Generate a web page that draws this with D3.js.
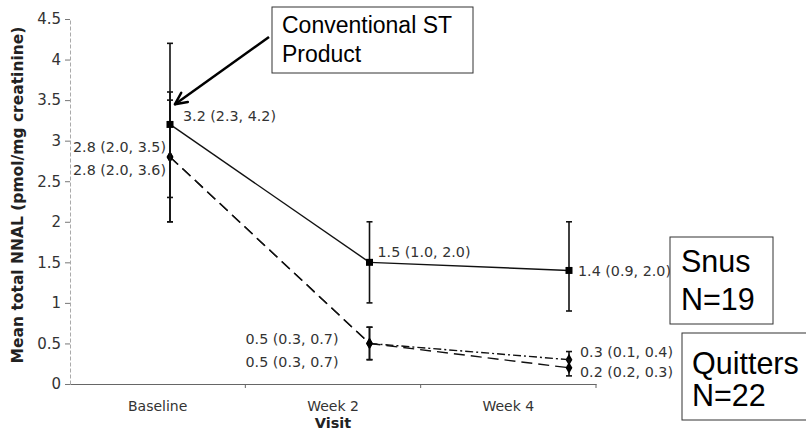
<!DOCTYPE html>
<html>
<head>
<meta charset="utf-8">
<script src="https://cdn.jsdelivr.net/npm/d3@7"></script>
<style>
body { margin: 0; background: #fff; }
svg { display: block; font-family: "DejaVu Sans", sans-serif; }
</style>
</head>
<body>
<svg id="chart" width="806" height="441"></svg>
<script>
// visits on the x axis
var visits = ['Baseline', 'Week 2', 'Week 4'];
var yTicks = [0, 0.5, 1, 1.5, 2, 2.5, 3, 3.5, 4, 4.5];

// snus group: mean and 95% CI
var snusMean = [3.2, 1.5, 1.4];
var snusLow  = [2.3, 1.0, 0.9];
var snusHigh = [4.2, 2.0, 2.0];

// quitters, two traces (they sit on top of each other until week 2)
var quitAMean = [2.8, 0.5, 0.3];
var quitALow  = [2.0, 0.3, 0.1];
var quitAHigh = [3.5, 0.7, 0.4];

var quitBMean = [2.8, 0.5, 0.2];
var quitBLow  = [2.0, 0.3, 0.2];
var quitBHigh = [3.6, 0.7, 0.3];

var svg = d3.select('#chart');
var fmt = d3.format('.1f');

//scales ---------------------------------------------
var y = d3.scaleLinear().domain([0, 4.5]).range([384, 19]);
var xBand = d3.scaleBand().domain(visits).range([70, 596]);
// the points in the original are not on the band centres
var xPt = d3.scalePoint().domain(visits).range([170, 569]);

//axes -----------------------------------------------
var yAxis = svg.append('g')
  .attr('transform', 'translate(70,0)')
  .call(d3.axisLeft(y).tickValues(yTicks).tickSize(5).tickSizeOuter(0).tickPadding(4).tickFormat(d3.format('~g')));
yAxis.select('.domain').attr('stroke', '#aaa').attr('stroke-dasharray', '4,2');
yAxis.selectAll('.tick line').attr('stroke', '#777');
yAxis.selectAll('text').attr('fill', '#333').style('font-size', '15px').style('font-family', '"DejaVu Sans", sans-serif');

var xAxis = svg.append('g')
  .attr('transform', 'translate(0,384)')
  .call(d3.axisBottom(xBand).tickSize(0).tickSizeOuter(0).tickPadding(17));
xAxis.select('.domain').attr('stroke', '#666');
xAxis.selectAll('text').attr('fill', '#333').style('font-size', '14px').style('font-family', '"DejaVu Sans", sans-serif');

// ticks between the categories
svg.append('g').selectAll('line')
  .data(visits)
  .enter().append('line')
    .attr('x1', function(d){ return xBand(d) + xBand.bandwidth(); })
    .attr('x2', function(d){ return xBand(d) + xBand.bandwidth(); })
    .attr('y1', 384).attr('y2', 388)
    .attr('stroke', '#666');

svg.append('text')
  .attr('x', (70 + 596) / 2).attr('y', 428)
  .attr('text-anchor', 'middle')
  .style('font-weight', 'bold').style('font-size', '14.5px')
  .attr('fill', '#222')
  .text('Visit');

svg.append('text')
  .attr('transform', 'translate(23,195) rotate(-90)')
  .attr('text-anchor', 'middle')
  .style('font-weight', 'bold').style('font-size', '15.5px')
  .attr('fill', '#222')
  .text('Mean total NNAL (pmol/mg creatinine)');

//series ---------------------------------------------
// dash per segment: the dash-dot trace hides under the dashed one until week 2
var series = [
  { name: 'quitA', mean: quitAMean, low: quitALow, high: quitAHigh, dash: ['11,6', '8,3,2,3'], symbol: d3.symbolDiamond, size: 40,
    lab: [{dx: -4, dy: -5, anchor: 'end'}, {dx: -31, dy: 1, anchor: 'end'}, {dx: 11, dy: -3, anchor: 'start'}] },
  { name: 'quitB', mean: quitBMean, low: quitBLow, high: quitBHigh, dash: ['11,6', '11,6'], symbol: d3.symbolDiamond, size: 40,
    lab: [{dx: -4, dy: 18, anchor: 'end'}, {dx: -31, dy: 24, anchor: 'end'}, {dx: 11, dy: 9, anchor: 'start'}] },
  { name: 'snus', mean: snusMean, low: snusLow, high: snusHigh, dash: [null, null], symbol: d3.symbolSquare, size: 49,
    lab: [{dx: 13, dy: -3, anchor: 'start'}, {dx: 8, dy: -5, anchor: 'start'}, {dx: 9, dy: 6, anchor: 'start'}] }
];

series.forEach(function(s){
  var pts = visits.map(function(v, i){
    return { visit: v, mean: s.mean[i], low: s.low[i], high: s.high[i], lab: s.lab[i] };
  });
  var g = svg.append('g').attr('class', s.name);

  var line = d3.line()
    .x(function(d){ return xPt(d.visit); })
    .y(function(d){ return y(d.mean); });

  var segs = d3.pairs(pts);
  g.selectAll('.seg').data(segs).enter().append('path')
    .attr('class', 'seg')
    .attr('d', line)
    .attr('fill', 'none')
    .attr('stroke', '#111')
    .attr('stroke-width', 1.4)
    .attr('stroke-dasharray', function(d, i){ return s.dash[i]; });

  // error bars
  var eb = g.selectAll('.eb').data(pts).enter().append('g').attr('class', 'eb');
  eb.append('line')
    .attr('x1', function(d){ return xPt(d.visit); })
    .attr('x2', function(d){ return xPt(d.visit); })
    .attr('y1', function(d){ return y(d.low); })
    .attr('y2', function(d){ return y(d.high); })
    .attr('stroke', '#111').attr('stroke-width', 1.6);
  ['low', 'high'].forEach(function(k){
    eb.append('line')
      .attr('x1', function(d){ return xPt(d.visit) - 3; })
      .attr('x2', function(d){ return xPt(d.visit) + 3; })
      .attr('y1', function(d){ return y(d[k]); })
      .attr('y2', function(d){ return y(d[k]); })
      .attr('stroke', '#111').attr('stroke-width', 1.6);
  });

  g.selectAll('.mk').data(pts).enter().append('path')
    .attr('class', 'mk')
    .attr('d', d3.symbol().type(s.symbol).size(s.size))
    .attr('transform', function(d){ return 'translate(' + xPt(d.visit) + ',' + y(d.mean) + ')'; })
    .attr('fill', '#000');

  g.selectAll('.lbl').data(pts).enter().append('text')
    .attr('class', 'lbl')
    .attr('x', function(d){ return xPt(d.visit) + d.lab.dx; })
    .attr('y', function(d){ return y(d.mean) + d.lab.dy; })
    .attr('text-anchor', function(d){ return d.lab.anchor; })
    .style('font-size', '14.3px')
    .attr('fill', '#333')
    .text(function(d){ return fmt(d.mean) + ' (' + fmt(d.low) + ', ' + fmt(d.high) + ')'; });
});

//annotation boxes -----------------------------------
function textBox(x, y0, w, h, lines, size, tx, baselines){
  var g = svg.append('g');
  g.append('rect')
    .attr('x', x).attr('y', y0).attr('width', w).attr('height', h)
    .attr('fill', '#fff').attr('stroke', '#333').attr('stroke-width', 1);
  lines.forEach(function(t, i){
    g.append('text')
      .attr('x', tx).attr('y', baselines[i])
      .style('font-family', '"Liberation Sans", Arial, sans-serif')
      .style('font-size', size + 'px')
      .attr('fill', '#000')
      .text(t);
  });
}

// arrow from the box to the baseline snus point
var ax0 = 269, ay0 = 37;
var ax1 = xPt('Baseline') + 5, ay1 = y(3.45);
var ang = Math.atan2(ay1 - ay0, ax1 - ax0);
svg.append('line')
  .attr('x1', ax0).attr('y1', ay0).attr('x2', ax1).attr('y2', ay1)
  .attr('stroke', '#000').attr('stroke-width', 2.5);
[-0.45, 0.45].forEach(function(a){
  svg.append('line')
    .attr('x1', ax1).attr('y1', ay1)
    .attr('x2', ax1 - 13 * Math.cos(ang + a))
    .attr('y2', ay1 - 13 * Math.sin(ang + a))
    .attr('stroke', '#000').attr('stroke-width', 2.5).attr('stroke-linecap', 'round');
});

textBox(272, 7, 201, 66, ['Conventional ST', 'Product'], 23, 282, [33, 62]);
textBox(670, 237, 103, 87, ['Snus', 'N=19'], 30.5, 681, [272, 310]);
textBox(682, 333, 140, 87, ['Quitters', 'N=22'], 30.5, 692, [374, 406]);
</script>
</body>
</html>
